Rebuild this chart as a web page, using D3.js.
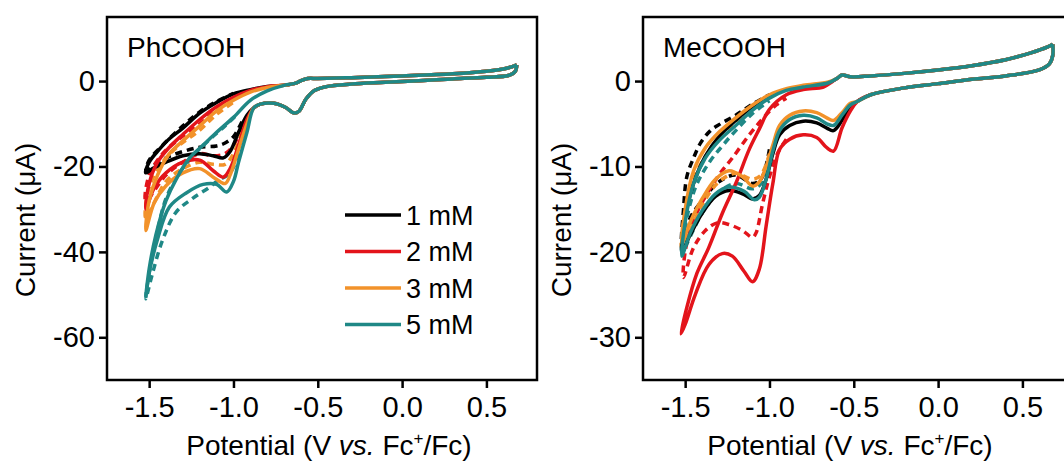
<!DOCTYPE html>
<html>
<head>
<script src="https://d3js.org/d3.v7.min.js"></script>
<style>
  body { margin: 0; background: #fff; }
  text { font-family: Arial, "Liberation Sans", sans-serif; fill: #000; }
</style>
</head>
<body>
<svg id="svg" width="1064" height="468"></svg>
<script>
// cyclic voltammograms, values: [potential (V), current (uA)]
var concs = ["1 mM", "2 mM", "3 mM", "5 mM"];
var colors = ["#000000", "#e3141b", "#f2922a", "#1f8886"];
var xTicks = [-1.5, -1.0, -0.5, 0.0, 0.5];

// ---- PhCOOH ----
var phHead = [[0.68,3.8],[0.67,2.2],[0.63,1.3],[0.5,0.9],[0.3,0.5],[0.1,0.1],[-0.1,-0.3],[-0.3,-0.7],[-0.45,-1.3],[-0.52,-2.2],[-0.57,-4.2],[-0.61,-7],[-0.64,-7.5],[-0.69,-6.2],[-0.76,-5.2],[-0.84,-5.4],[-0.88,-6.3]];
var phTail = [[-0.7,-1.0],[-0.63,-0.5],[-0.6,0.1],[-0.56,0.6],[-0.5,0.6],[-0.3,0.8],[0,1.2],[0.3,1.7],[0.5,2.3],[0.62,3.0],[0.68,3.8]];
var ph1 = [[-0.92,-8],[-0.97,-12],[-1.02,-16.5],[-1.06,-18],[-1.12,-17.5],[-1.2,-17],[-1.3,-17.5],[-1.4,-19],[-1.48,-20.5],[-1.52,-21.5],
           [-1.5,-19],[-1.44,-16],[-1.38,-13.5],[-1.3,-11],[-1.2,-7.5],[-1.1,-5],[-1.0,-3],[-0.9,-2],[-0.8,-1.3]];
var ph2 = [[-0.92,-9],[-0.97,-15],[-1.02,-20.5],[-1.06,-22.5],[-1.12,-21],[-1.2,-18.5],[-1.3,-19],[-1.4,-21.5],[-1.47,-25],[-1.52,-30],
           [-1.5,-24],[-1.45,-19],[-1.38,-15.5],[-1.3,-12.5],[-1.2,-9],[-1.1,-6],[-1.0,-3.8],[-0.9,-2.2],[-0.8,-1.3]];
var ph3 = [[-0.92,-10],[-0.97,-16],[-1.02,-22],[-1.05,-24],[-1.12,-22.5],[-1.2,-20.5],[-1.3,-21.5],[-1.4,-24.5],[-1.47,-28.5],[-1.52,-35],
           [-1.5,-28],[-1.45,-22],[-1.38,-17],[-1.3,-14],[-1.2,-10.5],[-1.1,-7],[-1.0,-4.5],[-0.9,-2.6],[-0.8,-1.5]];
var ph5 = [[-0.92,-12],[-0.97,-19],[-1.0,-23.5],[-1.04,-26],[-1.1,-24.2],[-1.18,-24.2],[-1.28,-26.2],[-1.38,-29.5],[-1.45,-37],[-1.5,-45],[-1.52,-50.5],
           [-1.5,-44],[-1.46,-36],[-1.4,-28],[-1.34,-23],[-1.26,-18],[-1.18,-15],[-1.1,-12],[-1.0,-8.5],[-0.9,-4.5],[-0.8,-2.3]];
// dashed traces (only where they separate from the solid ones)
var ph1d = [[-0.95,-9.5],[-1.0,-13],[-1.05,-14.5],[-1.1,-15.2],[-1.2,-15.5],[-1.3,-16.5],[-1.4,-18],[-1.5,-20.5],[-1.52,-21],
            [-1.5,-18.5],[-1.42,-15],[-1.3,-10.5],[-1.2,-7.2],[-1.1,-4.8],[-1.0,-2.9]];
var ph2d = [[-0.95,-11],[-1.0,-15],[-1.05,-17],[-1.12,-17.5],[-1.2,-17],[-1.3,-19],[-1.4,-22],[-1.52,-28],
            [-1.5,-22],[-1.42,-17],[-1.32,-13.5],[-1.2,-10],[-1.1,-6.8],[-1.0,-4.2]];
var ph3d = [[-0.95,-12],[-1.0,-17],[-1.05,-19.5],[-1.12,-19.5],[-1.2,-19],[-1.3,-20.5],[-1.4,-23.5],[-1.52,-32],
            [-1.5,-25],[-1.42,-19],[-1.32,-15],[-1.2,-11.5],[-1.1,-7.8],[-1.0,-5]];
var ph5d = [[-0.97,-17],[-1.02,-21.5],[-1.1,-23.5],[-1.14,-24.8],[-1.24,-27.4],[-1.34,-30.7],[-1.42,-37.2],[-1.48,-45],[-1.52,-51],
            [-1.5,-45],[-1.45,-35],[-1.4,-27.5],[-1.32,-21.5],[-1.24,-17.5],[-1.15,-14],[-1.05,-10.5],[-0.97,-7.5]];

// ---- MeCOOH ----
var meHead = [[0.68,4.3],[0.68,3.0],[0.66,2.0],[0.6,1.3],[0.4,0.6],[0.2,0.2],[0,-0.3],[-0.2,-0.8],[-0.4,-1.6],[-0.48,-2.4]];
var meTail = [[-0.6,0.3],[-0.57,0.7],[-0.52,0.5],[-0.4,0.6],[-0.2,0.9],[0,1.3],[0.2,1.8],[0.4,2.5],[0.55,3.3],[0.65,4.0],[0.68,4.3]];
var me1 = [[-0.52,-3],[-0.57,-4.6],[-0.62,-5.8],[-0.66,-5.5],[-0.72,-4.9],[-0.8,-4.7],[-0.88,-5.2],[-0.94,-6.3],[-0.98,-8.5],[-1.02,-11.5],[-1.06,-13.4],[-1.1,-13.8],[-1.16,-13.2],[-1.24,-12.8],[-1.32,-13.5],[-1.4,-15.5],[-1.47,-18],[-1.52,-20],
           [-1.5,-16],[-1.45,-12],[-1.38,-8.8],[-1.3,-6.5],[-1.2,-4.6],[-1.1,-3],[-1.0,-1.8],[-0.9,-1],[-0.8,-0.6],[-0.65,-0.2]];
var me2 = [[-0.52,-3.5],[-0.57,-5.5],[-0.62,-8.2],[-0.66,-7.8],[-0.72,-6.6],[-0.8,-6.3],[-0.88,-6.8],[-0.94,-8],[-0.98,-12],[-1.02,-17],[-1.06,-22],[-1.1,-23.5],[-1.15,-22.3],[-1.22,-20.5],[-1.28,-20.2],[-1.36,-21.5],[-1.44,-25],[-1.5,-28.5],[-1.525,-29.6],
           [-1.49,-26.5],[-1.43,-22.5],[-1.36,-19.5],[-1.28,-15.5],[-1.2,-12],[-1.12,-8],[-1.06,-5.6],[-1.0,-3.3],[-0.9,-1.6],[-0.8,-1.0],[-0.68,-0.7],[-0.63,-0.1]];
var me3 = [[-0.52,-2.6],[-0.57,-3.7],[-0.62,-4.6],[-0.66,-4.3],[-0.72,-3.7],[-0.8,-3.5],[-0.88,-4],[-0.94,-5.2],[-0.98,-7.5],[-1.02,-10],[-1.06,-11.8],[-1.1,-12.3],[-1.16,-11.2],[-1.24,-10.5],[-1.32,-11.5],[-1.4,-13.8],[-1.47,-16.5],[-1.52,-19],
           [-1.5,-15],[-1.45,-10.5],[-1.38,-7.8],[-1.3,-6],[-1.2,-4.3],[-1.1,-2.8],[-1.0,-1.6],[-0.9,-0.9],[-0.8,-0.5],[-0.65,-0.1]];
var me5 = [[-0.52,-2.8],[-0.57,-4],[-0.62,-5.2],[-0.66,-5],[-0.72,-4.3],[-0.8,-4],[-0.88,-4.5],[-0.94,-5.8],[-0.98,-8.2],[-1.02,-11.5],[-1.06,-13.6],[-1.09,-13.9],[-1.15,-12.9],[-1.24,-12.4],[-1.32,-13.2],[-1.4,-15.2],[-1.47,-17.8],[-1.52,-20.5],
           [-1.5,-16.5],[-1.45,-12],[-1.38,-9],[-1.3,-7],[-1.2,-5.2],[-1.1,-3.4],[-1.0,-2],[-0.9,-1.1],[-0.8,-0.7],[-0.65,-0.2]];
var me1d = [[-1.0,-8],[-1.05,-11.5],[-1.1,-12],[-1.2,-11],[-1.3,-11.8],[-1.4,-14],[-1.47,-16],[-1.52,-19],
            [-1.51,-15.1],[-1.49,-11.2],[-1.45,-9],[-1.41,-7.3],[-1.35,-5.8],[-1.29,-5],[-1.2,-4],[-1.1,-2.7],[-1.0,-1.6]];
var me2d = [[-0.9,-6.8],[-0.95,-8.4],[-1.0,-11.2],[-1.04,-14.3],[-1.08,-17.8],[-1.1,-18.3],[-1.16,-17.5],[-1.24,-16.8],[-1.31,-16.6],[-1.38,-17.5],[-1.45,-19.5],[-1.51,-23],
            [-1.5,-20],[-1.45,-16.3],[-1.38,-13.5],[-1.3,-11],[-1.22,-9],[-1.12,-6.3],[-1.04,-4.4],[-0.96,-2.8],[-0.9,-2]];
var me3d = [[-1.0,-8.5],[-1.05,-11],[-1.1,-11.5],[-1.2,-10.8],[-1.3,-11.8],[-1.4,-14.5],[-1.52,-19.5],
            [-1.5,-15.5],[-1.44,-11],[-1.36,-8.3],[-1.28,-6.4],[-1.2,-4.8],[-1.1,-3.2],[-1.0,-1.8]];
var me5d = [[-1.0,-9],[-1.05,-12],[-1.1,-12.6],[-1.2,-12],[-1.3,-13],[-1.4,-15.5],[-1.52,-20],
            [-1.5,-17],[-1.44,-12.5],[-1.36,-9.6],[-1.28,-7.6],[-1.2,-5.8],[-1.1,-3.8],[-1.0,-2.3]];

var panels = [
  { name: "PhCOOH", x0: 107, x1: 537, yDomain: [-70, 15], yTicks: [0, -20, -40, -60], titleX: 329,
    solid: [ph1, ph2, ph3, ph5].map(function(s){ return phHead.concat(s, phTail); }),
    dashed: [ph1d, ph2d, ph3d, ph5d], legend: true },
  { name: "MeCOOH", x0: 643, x1: 1073, yDomain: [-35, 7.5], yTicks: [0, -10, -20, -30], titleX: 850,
    solid: [me1, me2, me3, me5].map(function(s){ return meHead.concat(s, meTail); }),
    dashed: [me1d, me2d, me3d, me5d], legend: false }
];

var svg = d3.select("#svg");
var plotTop = 17, plotBottom = 380;

panels.forEach(function(p) {
  var x = d3.scaleLinear().domain([-1.75, 0.8]).range([p.x0, p.x1]);
  var y = d3.scaleLinear().domain(p.yDomain).range([plotBottom, plotTop]);
  var g = svg.append("g");

  var line = d3.line()
      .x(function(d){ return x(d[0]); })
      .y(function(d){ return y(d[1]); })
      .curve(d3.curveCatmullRom.alpha(0.5));

  // dashed first, then solid on top
  p.dashed.forEach(function(s, i) {
    g.append("path").attr("d", line(s))
      .attr("fill", "none").attr("stroke", colors[i])
      .attr("stroke-width", 3.5).attr("stroke-dasharray", "7,5");
  });
  p.solid.forEach(function(s, i) {
    g.append("path").attr("d", line(s))
      .attr("fill", "none").attr("stroke", colors[i])
      .attr("stroke-width", 3.5).attr("stroke-linejoin", "round");
  });

  // frame
  g.append("rect").attr("x", p.x0).attr("y", plotTop)
    .attr("width", p.x1 - p.x0).attr("height", plotBottom - plotTop)
    .attr("fill", "none").attr("stroke", "#000").attr("stroke-width", 2.5);

  var xAxis = g.append("g").attr("transform", "translate(0," + plotBottom + ")")
    .call(d3.axisBottom(x).tickValues(xTicks).tickSize(8).tickSizeOuter(0).tickPadding(8)
      .tickFormat(function(d){ return d.toFixed(1); }));
  var yAxis = g.append("g").attr("transform", "translate(" + p.x0 + ",0)")
    .call(d3.axisLeft(y).tickValues(p.yTicks).tickSize(8).tickSizeOuter(0).tickPadding(4)
      .tickFormat(function(d){ return String(d); }));
  [xAxis, yAxis].forEach(function(a) {
    a.select(".domain").remove();
    a.selectAll("line").attr("stroke", "#000").attr("stroke-width", 2.5);
    a.selectAll("text").attr("font-size", 29)
      .attr("font-family", "Arial, 'Liberation Sans', sans-serif").attr("fill", "#000");
  });

  // panel title
  g.append("text").attr("x", p.x0 + 20).attr("y", 57)
    .attr("font-size", 28).text(p.name);

  // axis titles
  var xt = g.append("text").attr("x", p.titleX).attr("y", 455)
    .attr("text-anchor", "middle").attr("font-size", 28);
  xt.append("tspan").text("Potential (V ");
  xt.append("tspan").attr("font-style", "italic").text("vs.");
  xt.append("tspan").text(" Fc");
  xt.append("tspan").attr("font-size", 17).attr("dy", -11).text("+");
  xt.append("tspan").attr("dy", 11).text("/Fc)");

  g.append("text")
    .attr("transform", "translate(" + (p.x0 - 72) + ",220) rotate(-90)")
    .attr("text-anchor", "middle").attr("font-size", 28)
    .text("Current (\u03bcA)");

  if (p.legend) {
    var lg = g.append("g");
    concs.forEach(function(c, i) {
      var yy = 215 + i * 36.5;
      lg.append("line").attr("x1", 345).attr("x2", 401).attr("y1", yy).attr("y2", yy)
        .attr("stroke", colors[i]).attr("stroke-width", 3.5);
      lg.append("text").attr("x", 406).attr("y", yy + 9.5).attr("font-size", 27).text(c);
    });
  }
});
</script>
</body>
</html>
